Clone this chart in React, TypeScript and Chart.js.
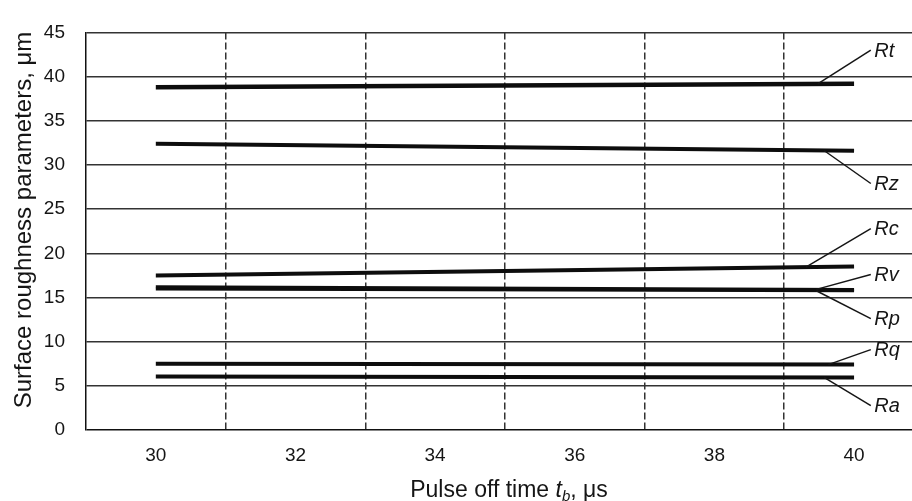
import React, { useEffect, useRef } from "react";
import { Chart, registerables } from "chart.js";

Chart.register(...registerables);

// ---- data ----
const seriesNames = ["Rt", "Rz", "Rc", "Rv", "Rp", "Rq", "Ra"];
const xStart = 30;
const xEnd = 40;
const startValues = [38.8, 32.4, 17.5, 16.2, 15.95, 7.5, 6.05];
const endValues = [39.2, 31.6, 18.5, 15.9, 15.75, 7.4, 5.95];
const xTickValues = [30, 31, 32, 33, 34, 35, 36, 37, 38, 39, 40];
const yTickStep = 5;
const yMin = 0;
const yMax = 45;
const xMin = 29;
const xMax = 40.83;

// callout annotations (data coordinates)
const leaderStartX = [39.48, 39.57, 39.31, 39.46, 39.46, 39.63, 39.57];
const labelYValues = [43.0, 27.9, 22.8, 17.6, 12.6, 9.1, 2.75];
const leaderEndX = 40.24;
const labelTextX = 40.29;

const xTitleParts = ["Pulse off time ", "t", "b", ", μs"];
const yTitle = "Surface roughness parameters, μm";

const FONT = "'Liberation Sans', Arial, sans-serif";
const INK = "#151515";

const annotationPlugin = {
  id: "callouts",
  afterDraw(chart: any) {
    const { ctx, scales } = chart;
    const x = scales.x;
    const y = scales.y;
    ctx.save();
    // leaders and labels
    seriesNames.forEach((name, i) => {
      const lx = leaderStartX[i];
      const v = startValues[i] + ((endValues[i] - startValues[i]) * (lx - xStart)) / (xEnd - xStart);
      ctx.beginPath();
      ctx.strokeStyle = INK;
      ctx.lineWidth = 1.5;
      ctx.moveTo(x.getPixelForValue(lx), y.getPixelForValue(v));
      ctx.lineTo(x.getPixelForValue(leaderEndX), y.getPixelForValue(labelYValues[i]));
      ctx.stroke();
      ctx.fillStyle = INK;
      ctx.font = `italic 20px ${FONT}`;
      ctx.textAlign = "left";
      ctx.textBaseline = "middle";
      ctx.fillText(name, x.getPixelForValue(labelTextX), y.getPixelForValue(labelYValues[i]) + 1);
    });

    // x title with subscript
    const base = `23px ${FONT}`;
    const ital = `italic 23px ${FONT}`;
    const sub = `italic 15px ${FONT}`;
    const fonts = [base, ital, sub, base];
    const widths = xTitleParts.map((t, i) => {
      ctx.font = fonts[i];
      return ctx.measureText(t).width;
    });
    const total = widths.reduce((a, b) => a + b, 0);
    let cx = 509 - total / 2;
    const baseY = 497;
    ctx.textAlign = "left";
    ctx.textBaseline = "alphabetic";
    xTitleParts.forEach((t, i) => {
      ctx.font = fonts[i];
      ctx.fillText(t, cx, i === 2 ? baseY + 4 : baseY);
      cx += widths[i];
    });

    // y title
    ctx.translate(31, 220);
    ctx.rotate(-Math.PI / 2);
    ctx.font = `24px ${FONT}`;
    ctx.textAlign = "center";
    ctx.textBaseline = "alphabetic";
    ctx.fillText(yTitle, 0, 0);
    ctx.restore();
  },
};

export default function App() {
  const ref = useRef<HTMLCanvasElement | null>(null);
  useEffect(() => {
    document.body.style.margin = "0";
    const canvas = ref.current!;
    const chart = new Chart(canvas, {
      type: "line",
      data: {
        datasets: seriesNames.map((name, i) => ({
          label: name,
          data: [
            { x: xStart, y: startValues[i] },
            { x: xEnd, y: endValues[i] },
          ],
          borderColor: "#0d0d0d",
          backgroundColor: "#0d0d0d",
          borderWidth: name === "Rt" ? 4.5 : name === "Rv" || name === "Rp" ? 3 : 4,
          pointRadius: 0,
          borderCapStyle: "butt",
          tension: 0,
        })),
      },
      options: {
        responsive: false,
        animation: false,
        events: [],
        layout: { padding: { top: 22, right: 0, bottom: 0, left: 0 } },
        plugins: {
          legend: { display: false },
          tooltip: { enabled: false },
          title: { display: false },
        },
        scales: {
          x: {
            type: "linear",
            min: xMin,
            max: xMax,
            afterBuildTicks: (scale: any) => {
              scale.ticks = xTickValues.map((v) => ({ value: v }));
            },
            afterFit: (scale: any) => {
              scale.height = 71;
            },
            ticks: {
              autoSkip: false,
              maxRotation: 0,
              padding: 14,
              color: INK,
              font: { family: FONT, size: 19 },
              callback: (v: any) => (Number(v) % 2 === 0 ? String(v) : ""),
            },
            grid: {
              drawTicks: false,
              lineWidth: 1.5,
              color: (c: any) =>
                c.tick && Math.abs(c.tick.value % 2) === 1 ? "#333" : "rgba(0,0,0,0)",
            },
            border: { display: false, dash: [7, 3] },
          },
          y: {
            type: "linear",
            min: yMin,
            max: yMax,
            afterFit: (scale: any) => {
              scale.width = 86;
            },
            ticks: {
              stepSize: yTickStep,
              padding: 21,
              color: INK,
              font: { family: FONT, size: 19 },
            },
            grid: {
              drawTicks: false,
              lineWidth: 1.5,
              color: (c: any) => (c.tick && c.tick.value === 0 ? "#111" : "#333"),
            },
            border: { display: true, color: "#111", width: 1.5 },
          },
        },
      },
      plugins: [annotationPlugin],
    } as any);
    return () => chart.destroy();
  }, []);
  return (
    <div style={{ width: 912, height: 501, background: "#fff" }}>
      <canvas ref={ref} width={912} height={501} style={{ display: "block" }} />
    </div>
  );
}
